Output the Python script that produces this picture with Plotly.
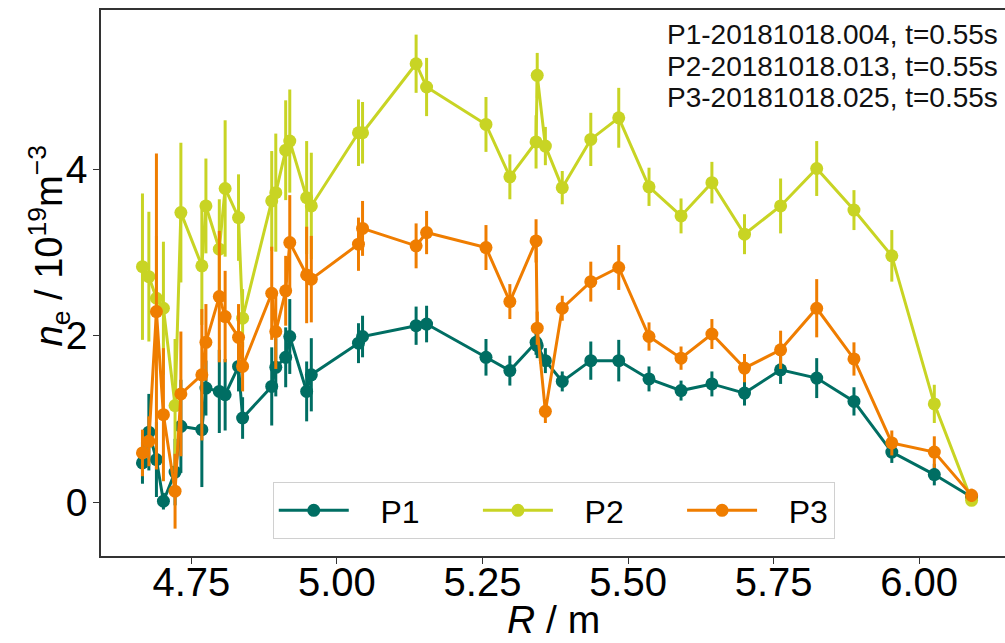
import plotly.graph_objects as go

R = [4.666, 4.677, 4.690, 4.702, 4.722, 4.732, 4.768, 4.775, 4.798, 4.808,
     4.831, 4.838, 4.888, 4.895, 4.912, 4.919, 4.948, 4.956, 5.037, 5.044,
     5.136, 5.154, 5.256, 5.297, 5.342, 5.344, 5.358, 5.387, 5.436, 5.484,
     5.536, 5.591, 5.644, 5.700, 5.762, 5.824, 5.888, 5.953, 6.026, 6.090]

p1 = [0.47, 0.84, 0.51, 0.01, 0.36, 0.91, 0.87, 1.37, 1.33, 1.29,
      1.63, 1.01, 1.39, 1.62, 1.74, 1.99, 1.33, 1.53, 1.91, 1.99,
      2.12, 2.14, 1.74, 1.58, 1.92, 1.88, 1.70, 1.45, 1.70, 1.70,
      1.48, 1.34, 1.42, 1.31, 1.59, 1.49, 1.21, 0.60, 0.33, 0.06]
p1_err = [0.25, 0.46, 0.45, 0.10, 0.40, 0.56, 0.69, 0.33, 0.50, 0.43,
          0.30, 0.25, 0.47, 0.35, 0.36, 0.45, 0.36, 0.44, 0.24, 0.25,
          0.23, 0.22, 0.22, 0.18, 0.15, 0.15, 0.15, 0.12, 0.23, 0.25,
          0.15, 0.12, 0.15, 0.15, 0.17, 0.24, 0.17, 0.13, 0.13, 0.05]

p2 = [2.83, 2.71, 2.45, 2.33, 1.16, 3.48, 2.84, 3.56, 3.04, 3.77,
      3.42, 2.21, 3.62, 3.72, 4.23, 4.34, 3.66, 3.56, 4.44, 4.44,
      5.27, 4.99, 4.54, 3.91, 4.33, 5.13, 4.28, 3.78, 4.36, 4.62,
      3.79, 3.44, 3.84, 3.22, 3.56, 4.01, 3.51, 2.96, 1.18, 0.02]
p2_err = [0.88, 0.78, 0.75, 0.80, 0.80, 0.84, 0.71, 0.57, 0.60, 0.82,
          0.52, 0.35, 0.60, 0.71, 0.60, 0.62, 0.68, 0.64, 0.40, 0.37,
          0.35, 0.35, 0.33, 0.27, 0.32, 0.27, 0.23, 0.20, 0.32, 0.36,
          0.23, 0.21, 0.25, 0.24, 0.33, 0.33, 0.24, 0.31, 0.23, 0.03]

p3 = [0.59, 0.73, 2.29, 1.05, 0.13, 1.30, 1.53, 1.92, 2.47, 2.23,
      1.98, 1.63, 2.51, 2.05, 2.54, 3.12, 2.73, 2.68, 3.10, 3.29,
      3.08, 3.24, 3.06, 2.41, 3.14, 2.09, 1.09, 2.33, 2.65, 2.82,
      1.99, 1.73, 2.02, 1.61, 1.83, 2.33, 1.72, 0.71, 0.60, 0.08]
p3_err = [0.28, 0.30, 1.90, 0.80, 0.45, 0.75, 0.79, 0.46, 0.79, 0.55,
          0.40, 0.30, 0.56, 0.45, 0.42, 0.57, 0.58, 0.52, 0.32, 0.33,
          0.27, 0.26, 0.27, 0.21, 0.26, 0.20, 0.14, 0.15, 0.24, 0.27,
          0.17, 0.14, 0.18, 0.17, 0.23, 0.35, 0.20, 0.15, 0.19, 0.08]

names = ["P1", "P2", "P3"]
colors = ["#006e63", "#c8d424", "#ef7d00"]
series = [(p1, p1_err), (p2, p2_err), (p3, p3_err)]
notes = ["P1-20181018.004, t=0.55s", "P2-20181018.013, t=0.55s", "P3-20181018.025, t=0.55s"]

x_ticks = [4.75, 5.00, 5.25, 5.50, 5.75, 6.00]
y_ticks = [0, 2, 4]

FONT = "Liberation Sans, Arial, Helvetica, sans-serif"
NB = "\u00a0"
lead = NB * 3
trail = [NB * 6, NB * 6, ""]

fig = go.Figure()
for name, col, (vals, errs), tr in zip(names, colors, series, trail):
    fig.add_trace(go.Scatter(
        x=R, y=vals, name=lead + name + tr, mode="lines+markers",
        line=dict(color=col, width=3),
        marker=dict(color=col, size=13),
        error_y=dict(type="data", array=errs, visible=True, color=col,
                     thickness=3, width=0),
    ))

note_y = [0.956, 0.897, 0.839]
for txt, yy in zip(notes, note_y):
    fig.add_annotation(text=txt, xref="paper", yref="paper", x=0.994, y=yy,
                       xanchor="right", yanchor="middle", showarrow=False,
                       font=dict(family=FONT, size=28, color="#111"))

# y-axis title placed as rotated text
fig.add_annotation(text="<i>n</i><sub>e</sub> / 10<sup>19</sup>m<sup>−3</sup>",
                   xref="paper", yref="paper", x=-0.058, y=0.568,
                   xanchor="center", yanchor="middle", textangle=-90,
                   showarrow=False, font=dict(family=FONT, size=38, color="black"))

# x-axis title at the bottom edge
fig.add_annotation(text="<i>R</i> / m", xref="paper", yref="paper",
                   x=0.5, y=-0.1593, xanchor="center", yanchor="bottom",
                   showarrow=False, font=dict(family=FONT, size=39, color="black"))

fig.update_layout(
    width=1005, height=643,
    margin=dict(l=101, r=0, t=10, b=87, autoexpand=False),
    paper_bgcolor="white", plot_bgcolor="white",
    font=dict(family=FONT, color="black"),
    showlegend=True,
    legend=dict(orientation="h", x=0.19, y=0.1355, xanchor="left", yanchor="top",
                bgcolor="white", bordercolor="#d0d0d0", borderwidth=1,
                font=dict(size=32, family=FONT), itemwidth=70),
    xaxis=dict(range=[4.5948, 6.1474], tickvals=x_ticks, tickformat=".2f",
               ticks="outside", ticklen=6, tickwidth=1.2, tickcolor="#333",
               showline=True, linecolor="#333", linewidth=1.5, mirror=True,
               showgrid=False, zeroline=False, automargin=False,
               ticklabelstandoff=-16,
               tickfont=dict(size=40, family=FONT)),
    yaxis=dict(range=[-0.649, 5.916], tickvals=y_ticks,
               ticks="outside", ticklen=6, tickwidth=1.2, tickcolor="#333",
               showline=True, linecolor="#333", linewidth=1.5, mirror=False,
               showgrid=False, zeroline=False, automargin=False,
               ticklabelstandoff=-2,
               tickfont=dict(size=39, family=FONT)),
)

fig.write_html("out.html")
